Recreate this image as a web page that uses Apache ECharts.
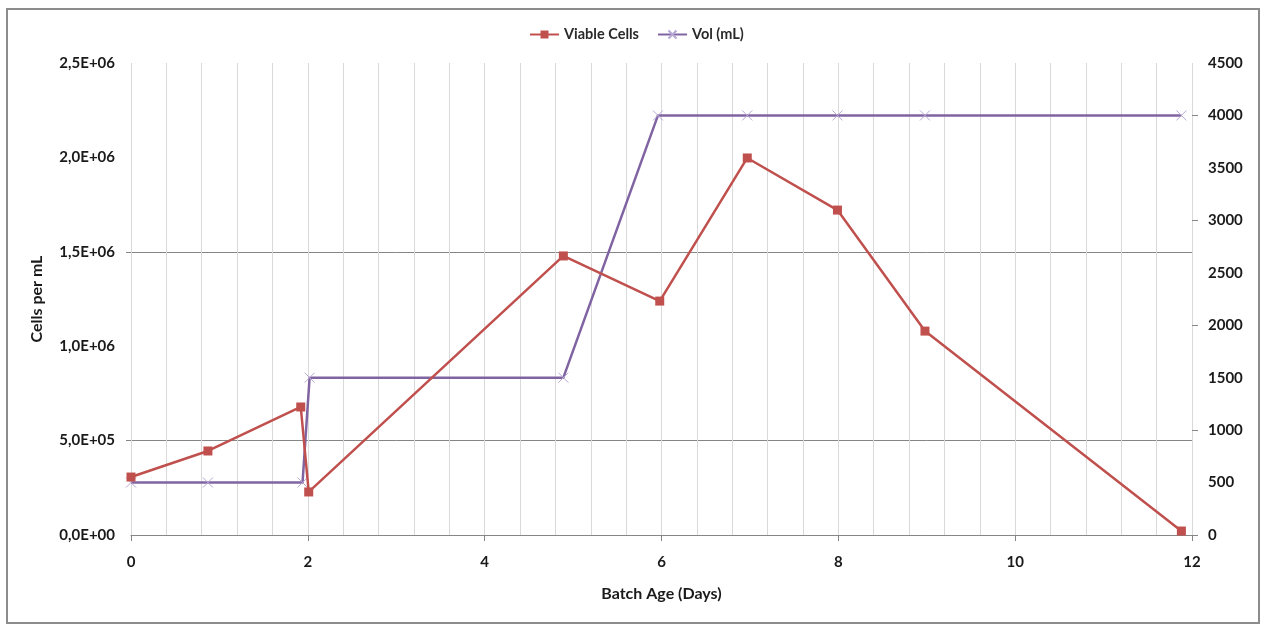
<!DOCTYPE html>
<html><head><meta charset="utf-8">
<script src="https://cdn.jsdelivr.net/npm/echarts@6/dist/echarts.min.js"></script>
<style>
html,body{margin:0;padding:0;background:#fff;}
#frame{position:absolute;left:6px;top:8px;width:1254px;height:616px;border:2px solid #8c8c8c;box-sizing:border-box;}
#c{position:absolute;left:0;top:0;width:1261px;height:624px;}
</style></head>
<body>
<div id="frame"></div>
<div id="c"></div>
<script>
// Viable cells: [day, cells per mL]
const cellDays   = [0, 0.87, 1.92, 2.01, 4.89, 5.98, 6.97, 7.99, 8.98, 11.88];
const cellValues = [307000, 445000, 678000, 228000, 1478000, 1239000, 1997000, 1721000, 1080000, 21000];
// Volume: [day, mL]
const volDays   = [0, 0.87, 1.94, 2.02, 4.89, 5.96, 6.97, 7.99, 8.98, 11.88];
const volValues = [500, 500, 500, 1500, 1500, 4000, 4000, 4000, 4000, 4000];

const seriesNames = ['Viable Cells', 'Vol (mL)'];
const xTitle = 'Batch Age (Days)';
const yTitle = 'Cells per mL';
const leftGridValues = [500000, 1500000];
const leftMax = 2500000, rightMax = 4500, rightTickMax = 4000;

const FONT = 'Lato';
const labelStyle = {fontFamily: FONT, fontWeight: 'bold', fontSize: 15, color: '#1a1a1a'};

// plot area layout
const G = {left: 131, right: 69, top: 63, bottom: 89};
const plotH = 624 - G.top - G.bottom;

function sci(v) {
  const s = Number(v).toExponential(1);
  const m = s.split('e');
  const mant = m[0].replace('.', ',');
  let exp = parseInt(m[1], 10);
  const sign = exp < 0 ? '-' : '+';
  exp = Math.abs(exp);
  return mant + 'E' + sign + (exp < 10 ? '0' + exp : exp);
}

const hiddenX = gi => ({type: 'value', gridIndex: gi, min: 0, max: 1, show: false});

const chart = echarts.init(document.getElementById('c'), null, {renderer: 'canvas'});
chart.setOption({
  animation: false,
  backgroundColor: 'transparent',
  legend: {
    top: 22, left: 524,
    itemWidth: 29, itemHeight: 10, itemGap: 18,
    textStyle: {fontFamily: FONT, fontWeight: 'bold', fontSize: 14.5, color: '#2a2a2a'},
    data: seriesNames
  },
  grid: [
    Object.assign({containLabel: false}, G),
    // right-axis tick marks every 1000 (0..4000)
    {left: G.left, right: G.right, top: G.top + plotH * (1 - rightTickMax / rightMax), bottom: G.bottom, containLabel: false},
    // horizontal gridlines (and their short left ticks) at 5E+05 and 1,5E+06
    {left: G.left, right: G.right,
     top: G.top + plotH * (1 - leftGridValues[1] / leftMax),
     bottom: G.bottom + plotH * (leftGridValues[0] / leftMax), containLabel: false}
  ],
  xAxis: [{
    type: 'value', gridIndex: 0, min: 0, max: 12, interval: 2,
    name: xTitle, nameLocation: 'middle', nameGap: 51,
    nameTextStyle: {fontFamily: FONT, fontWeight: 'bold', fontSize: 16, color: '#1a1a1a'},
    axisLine: {show: true, lineStyle: {color: '#868686', width: 1}},
    axisTick: {show: true, length: 6, lineStyle: {color: '#868686'}},
    axisLabel: Object.assign({margin: 20}, labelStyle),
    splitLine: {show: true, lineStyle: {color: '#d9d9d9', width: 1}},
    minorTick: {show: false, splitNumber: 5},
    minorSplitLine: {show: true, lineStyle: {color: '#d9d9d9', width: 1}}
  }, hiddenX(1), hiddenX(2)],
  yAxis: [
    {
      type: 'value', gridIndex: 0, min: 0, max: leftMax, interval: 500000, position: 'left',
      name: yTitle, nameLocation: 'middle', nameGap: 86,
      nameTextStyle: {fontFamily: FONT, fontWeight: 'bold', fontSize: 16, color: '#1a1a1a'},
      axisLine: {show: false, onZero: false},
      axisTick: {show: false},
      axisLabel: Object.assign({margin: 16, formatter: sci}, labelStyle),
      splitLine: {show: false}
    },
    {
      type: 'value', gridIndex: 0, min: 0, max: rightMax, interval: 500, position: 'right',
      axisLine: {show: false, onZero: false},
      axisTick: {show: false},
      axisLabel: Object.assign({margin: 16, formatter: v => String(v)}, labelStyle),
      splitLine: {show: false}
    },
    {
      type: 'value', gridIndex: 1, min: 0, max: rightTickMax, interval: 1000, position: 'right',
      axisLine: {show: false, onZero: false},
      axisTick: {show: true, length: 6, lineStyle: {color: '#868686'}},
      axisLabel: {show: false},
      splitLine: {show: false}
    },
    {
      type: 'value', gridIndex: 2, min: 0, max: 1, interval: 1, position: 'left',
      axisLine: {show: false, onZero: false},
      axisTick: {show: true, length: 5, lineStyle: {color: '#868686'}},
      axisLabel: {show: false},
      splitLine: {show: true, lineStyle: {color: '#868686', width: 1}}
    }
  ],
  series: [
    {
      name: seriesNames[0], type: 'line', xAxisIndex: 0, yAxisIndex: 0,
      data: cellDays.map((d, i) => [d, cellValues[i]]),
      symbol: 'rect', symbolSize: 9,
      lineStyle: {color: '#C0504D', width: 2.5},
      itemStyle: {color: '#C0504D'},
      z: 3
    },
    {
      name: seriesNames[1], type: 'line', xAxisIndex: 0, yAxisIndex: 1,
      data: volDays.map((d, i) => [d, volValues[i]]),
      symbol: 'path://M0,0L10,10M10,0L0,10', symbolSize: 10,
      lineStyle: {color: '#8064A2', width: 2.5},
      itemStyle: {color: 'none', borderColor: '#B7A8D3', borderWidth: 1},
      z: 2
    }
  ]
});
</script>
</body></html>
